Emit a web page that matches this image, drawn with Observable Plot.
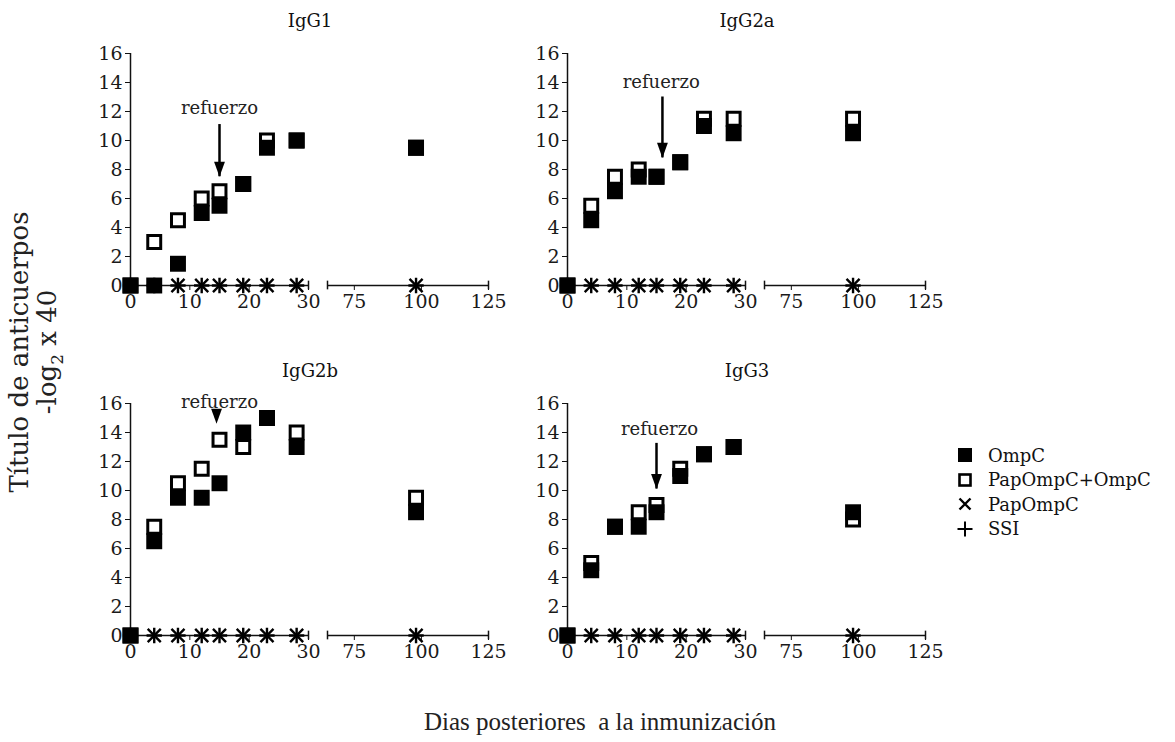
<!DOCTYPE html>
<html>
<head>
<meta charset="utf-8">
<script src="https://cdn.jsdelivr.net/npm/d3@7"></script>
<script src="https://cdn.jsdelivr.net/npm/@observablehq/plot@0.6"></script>
<style>
  body { margin: 0; background: #fff; }
  #fig { position: relative; width: 1175px; height: 742px; overflow: hidden; background: #fff;
         font-family: "DejaVu Serif", serif; color: #111; }
  #fig svg { position: absolute; overflow: visible; }
  #fig svg text { font-family: "DejaVu Serif", serif; }
  .ptitle { position: absolute; font-size: 18px; transform: translate(-50%, -50%); white-space: nowrap; }
  .legend { position: absolute; font-size: 18px; }
  .legend .row { display: flex; align-items: center; height: 24.5px; white-space: nowrap; }
  .legend svg { position: static !important; margin-right: 14px; }
  .ylab { position: absolute; font-size: 26px; line-height: 28px; text-align: center; white-space: nowrap;
          transform: translate(-50%, -50%) rotate(-90deg); color: #222; }
  .xlab { position: absolute; font-family: "Liberation Serif", serif; font-size: 25px; white-space: pre;
          transform: translate(-50%, -50%); color: #222; }
</style>
</head>
<body>
<div id="fig"></div>
<script>
// ---------------- data ----------------
const panels = ["IgG1", "IgG2a", "IgG2b", "IgG3"];
const series = ["OmpC", "PapOmpC+OmpC", "PapOmpC", "SSI"];
const days = [0, 4, 8, 12, 15, 19, 23, 28, 98];

const ompcIgG1  = [0, 0, 1.5, 5, 5.5, 7, 9.5, 10, 9.5];
const papIgG1   = [0, 3, 4.5, 6, 6.5, 7, 10, 10, 9.5];
const ompcIgG2a = [0, 4.5, 6.5, 7.5, 7.5, 8.5, 11, 10.5, 10.5];
const papIgG2a  = [0, 5.5, 7.5, 8, 7.5, 8.5, 11.5, 11.5, 11.5];
const ompcIgG2b = [0, 6.5, 9.5, 9.5, 10.5, 14, 15, 13, 8.5];
const papIgG2b  = [0, 7.5, 10.5, 11.5, 13.5, 13, 15, 14, 9.5];
const ompcIgG3  = [0, 4.5, 7.5, 7.5, 8.5, 11, 12.5, 13, 8.5];
const papIgG3   = [0, 5, 7.5, 8.5, 9, 11.5, 12.5, 13, 8];
const papOmpcOnly = [0, 0, 0, 0, 0, 0, 0, 0, 0];
const ssi         = [0, 0, 0, 0, 0, 0, 0, 0, 0];

const yTicks = [0, 2, 4, 6, 8, 10, 12, 14, 16];
const leftTicks = [0, 10, 20, 30];
const rightTicks = [75, 100, 125];
const leftDomain = [0, 30];
const rightDomain = [65, 125];

// booster annotation ("refuerzo"), in data units
const boostDay    = [15, 16, 14.5, 15];
const boostTop    = [11.1, 13.0, 14.6, 13.25];
const boostTip    = [7.5, 8.8, 14.6, 10.1];
const boostLabelX = [15, 15.8, 15, 15.5];
const boostLabelY = [12.2, 14.0, 16.1, 14.2];

const ompcBy = [ompcIgG1, ompcIgG2a, ompcIgG2b, ompcIgG3];
const papBy  = [papIgG1, papIgG2a, papIgG2b, papIgG3];

// ---------------- layout ----------------
const fig = document.getElementById("fig");
const FONT = "DejaVu Serif";
const MT = 15, MB = 35, PLOT_H = 232;
const H = MT + PLOT_H + MB;
const LEFT_W = 178, RIGHT_W = 161, GAP = 19;

const arrowHead = {
  draw(ctx, size) {
    const s = Math.sqrt(size);
    ctx.moveTo(0, 0);
    ctx.lineTo(-0.36 * s, -s);
    ctx.lineTo(0.36 * s, -s);
    ctx.closePath();
  }
};

function seriesMarks(rows) {
  return [
    Plot.dot(rows, {x: "day", y: "ssi", symbol: "plus", r: 5, stroke: "black", strokeWidth: 2.4}),
    Plot.dot(rows, {x: "day", y: "papOmpc", symbol: "times", r: 6, stroke: "black", strokeWidth: 2.4}),
    Plot.dot(rows, {x: "day", y: "pap", symbol: "square", r: 7.3, fill: "white", stroke: "black", strokeWidth: 3}),
    Plot.dot(rows, {x: "day", y: "ompc", symbol: "square", r: 9, fill: "black"})
  ];
}

panels.forEach((name, i) => {
  const col = i % 2, row = Math.floor(i / 2);
  const x0 = 130 + col * 437;     // pixel position of the y axis
  const yTop = 53 + row * 350;    // pixel position of y = 16
  const rows = days.map((d, j) => ({
    day: d, ompc: ompcBy[i][j], pap: papBy[i][j], papOmpc: papOmpcOnly[j], ssi: ssi[j]
  }));
  const ann = [{day: boostDay[i], top: boostTop[i], tip: boostTip[i], lx: boostLabelX[i], ly: boostLabelY[i], label: "refuerzo"}];

  const commonStyle = {fontFamily: FONT, fontSize: "19px", color: "#111", background: "transparent", overflow: "visible"};
  const axisFont = {fontSize: 19, fontFamily: FONT, fill: "#1a1a1a"};

  // left segment (0–30 days) with y axis
  const ML = 50, MR = 22;
  const left = Plot.plot({
    width: ML + LEFT_W + MR, height: H,
    marginLeft: ML, marginRight: MR, marginTop: MT, marginBottom: MB,
    x: {domain: leftDomain, axis: null},
    y: {domain: [0, 16], axis: null},
    style: commonStyle,
    marks: [
      Plot.ruleX([leftDomain[0]], {stroke: "#111", strokeWidth: 1.5}),
      Plot.ruleY([0], {stroke: "#111", strokeWidth: 1.5}),
      Plot.ruleX([leftDomain[1]], {y1: -0.3, y2: 0.3, stroke: "#111", strokeWidth: 1.5}),
      Plot.axisY({ticks: yTicks, tickSize: 5, tickPadding: 3, label: null, stroke: "#111", ...axisFont}),
      Plot.axisX({ticks: leftTicks, tickSize: 5, tickPadding: 4, label: null, stroke: "#111", ...axisFont}),
      ...seriesMarks(rows.filter(d => d.day <= leftDomain[1])),
      Plot.ruleX(ann, {x: "day", y1: "top", y2: "tip", stroke: "black", strokeWidth: 2.5}),
      Plot.dot(ann, {x: "day", y: "tip", symbol: arrowHead, r: 8.5, fill: "black"}),
      Plot.text(ann, {x: "lx", y: "ly", text: "label", fontSize: 18, fontFamily: FONT, fill: "#222"})
    ]
  });
  left.style.left = (x0 - ML) + "px";
  left.style.top = (yTop - MT) + "px";
  fig.appendChild(left);

  // right segment (65–125 days)
  const RL = 10, RR = 25;
  const right = Plot.plot({
    width: RL + RIGHT_W + RR, height: H,
    marginLeft: RL, marginRight: RR, marginTop: MT, marginBottom: MB,
    x: {domain: rightDomain, axis: null},
    y: {domain: [0, 16], axis: null},
    style: commonStyle,
    marks: [
      Plot.ruleY([0], {stroke: "#111", strokeWidth: 1.5}),
      Plot.ruleX(rightDomain, {y1: -0.3, y2: 0.3, stroke: "#111", strokeWidth: 1.5}),
      Plot.axisX({ticks: rightTicks, tickSize: 5, tickPadding: 4, label: null, stroke: "#111", ...axisFont}),
      ...seriesMarks(rows.filter(d => d.day >= rightDomain[0]))
    ]
  });
  right.style.left = (x0 + LEFT_W + GAP - RL) + "px";
  right.style.top = (yTop - MT) + "px";
  fig.appendChild(right);

  // panel title
  const t = document.createElement("div");
  t.className = "ptitle";
  t.textContent = name;
  t.style.left = (x0 + 180) + "px";
  t.style.top = (yTop - 33) + "px";
  fig.appendChild(t);
});

// ---------------- legend ----------------
const legendSymbols = [
  '<rect x="2" y="2" width="14" height="14" fill="black"/>',
  '<rect x="3.5" y="3.5" width="11" height="11" fill="white" stroke="black" stroke-width="2.6"/>',
  '<path d="M3.5,3.5L14.5,14.5M3.5,14.5L14.5,3.5" stroke="black" stroke-width="2.4" fill="none"/>',
  '<path d="M1.5,9L16.5,9M9,1.5L9,16.5" stroke="black" stroke-width="2" fill="none"/>'
];
const legend = document.createElement("div");
legend.className = "legend";
legend.style.left = "956px";
legend.style.top = "443px";
legend.innerHTML = series.map((s, k) =>
  `<div class="row"><svg width="18" height="18" viewBox="0 0 18 18">${legendSymbols[k]}</svg><span>${s}</span></div>`
).join("");
fig.appendChild(legend);

// ---------------- axis titles ----------------
const ylab = document.createElement("div");
ylab.className = "ylab";
ylab.innerHTML = "Título de anticuerpos<br>-log<sub style='font-size:0.65em'>2</sub> x 40";
ylab.style.left = "38px";
ylab.style.top = "352px";
fig.appendChild(ylab);

const xlab = document.createElement("div");
xlab.className = "xlab";
xlab.textContent = "Dias posteriores  a la inmunización";
xlab.style.left = "600px";
xlab.style.top = "722px";
fig.appendChild(xlab);
</script>
</body>
</html>
